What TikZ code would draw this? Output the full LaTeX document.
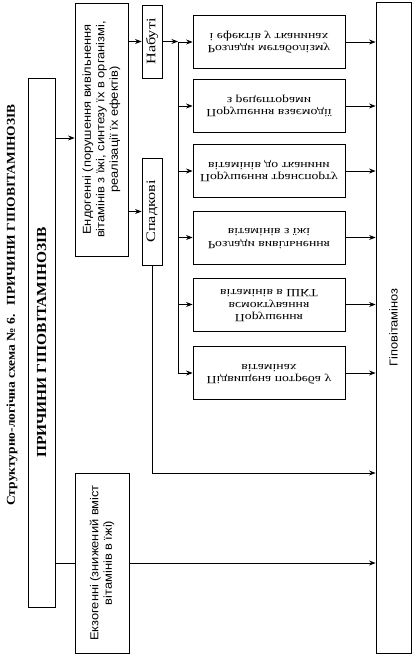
\documentclass[tikz,border=0pt]{standalone}
\usepackage{graphicx}
\usepackage{fontspec}
\setmainfont{Liberation Serif}
\newfontfamily\largeserif{Liberation Serif}[FakeStretch=1.25]
\newfontfamily\titleserif{Liberation Serif}[FakeStretch=1.12]
\newfontfamily\narrowsans{Liberation Sans}[FakeStretch=1.12]
\usetikzlibrary{arrows.meta, positioning}

% texte retourne (miroir vertical) des causes intermediaires
\newcommand{\retourne}[1]{\rotatebox[origin=c]{180}{\reflectbox{\begin{tabular}{@{}c@{}}#1\end{tabular}}}}

\tikzset{
  titre/.style={rotate=90, inner sep=0pt, font=\titleserif\bfseries\fontsize{12}{14}\selectfont},
  cause/.style={draw, rotate=90, inner sep=0pt, align=center, font=\narrowsans\fontsize{11.5}{13.5}\selectfont},
  sorte/.style={draw, rotate=90, inner sep=0pt, minimum height=20pt, font=\largeserif\fontsize{13}{15}\selectfont},
  trouble/.style={draw, inner sep=0pt, minimum width=152pt, minimum height=53pt, font=\largeserif\fontsize{11}{12.5}\selectfont},
  fleche/.style={->, >={Stealth[length=6.5pt, width=5pt]}},
}

\begin{document}
\begin{tikzpicture}[x=1pt, y=-1pt, line width=0.8pt]
    \useasboundingbox (0,0) rectangle (413,656);

    % Titre
    \node[titre] (titre) at (12,305) {Структурно-логічна схема № 6.\hspace{9pt}ПРИЧИНИ ГІПОВІТАМІНОЗІВ};
    \node[draw, rotate=90, inner sep=0pt, minimum width=529pt, minimum height=27pt,
          font=\titleserif\bfseries\fontsize{13.8}{16}\selectfont] (prich) at (41.5,342.5) {ПРИЧИНИ ГІПОВІТАМІНОЗІВ};

    % Causes
    \node[cause, minimum width=253pt, minimum height=53pt] (endo) at (101.5,129.5)
        {Ендогенні (порушення вивільнення\\вітамінів з їжі, синтезу їх в організмі,\\реалізації їх ефектів)};
    \node[cause, minimum width=180pt, minimum height=54pt] (exo) at (102,563)
        {Екзогенні (знижений вміст\\вітамінів в їжі)};
    \node[sorte, minimum width=73pt] (nab) at (152,41.5) {Набуті};
    \node[sorte, minimum width=107pt] (spad) at (152,211.5) {Спадкові};

    % Troubles
    \node[trouble] (t1) at (269,42) {\retourne{Розлади метаболізму\\і ефектів у тканинах}};
    \node[trouble] (t2) at (269,106) {\retourne{Порушення взаємодії\\з рецепторами}};
    \node[trouble] (t3) at (269,171) {\retourne{Порушення транспорту\\вітамінів до тканини}};
    \node[trouble] (t4) at (269,237.5) {\retourne{Розлади вивільнення\\вітамінів з їжі}};
    \node[trouble] (t5) at (269,304.5) {\retourne{Порушення\\всмоктування\\вітамінів в ШКТ}};
    \node[trouble] (t6) at (269,373) {\retourne{Підвищена потреба у\\вітамінах}};

    % Resultat
    \node[cause, minimum width=651pt, minimum height=35pt] (gipo) at (393.5,327.5) {Гіповітаміноз};

    % Points de passage
    \coordinate (kEndo) at (0,138);
    \coordinate (kSpad) at (0,473);
    \coordinate (bus) at (178,42);

    % Liaisons
    \draw[fleche] (prich.south |- kEndo) -- (endo.north |- kEndo);
    \draw (prich.south |- exo) -- (exo.north);
    \draw[fleche] (endo.south |- nab) -- (nab.north);
    \draw[fleche] (endo.south |- spad) -- (spad.north);
    \draw[fleche] (nab.south) -- (bus |- nab.south);
    \draw (bus |- t1) -- (bus |- t6);
    \foreach \i in {1,...,6} {
        \draw[fleche] (bus |- t\i) -- (t\i.west);
        \draw[fleche] (t\i.east) -- (gipo.north |- t\i.east);
    }
    \draw[fleche] (spad.west) -- (spad.west |- kSpad) -- (gipo.north |- kSpad);
    \draw[fleche] (exo.south) -- (gipo.north |- exo.south);
\end{tikzpicture}
\end{document}
